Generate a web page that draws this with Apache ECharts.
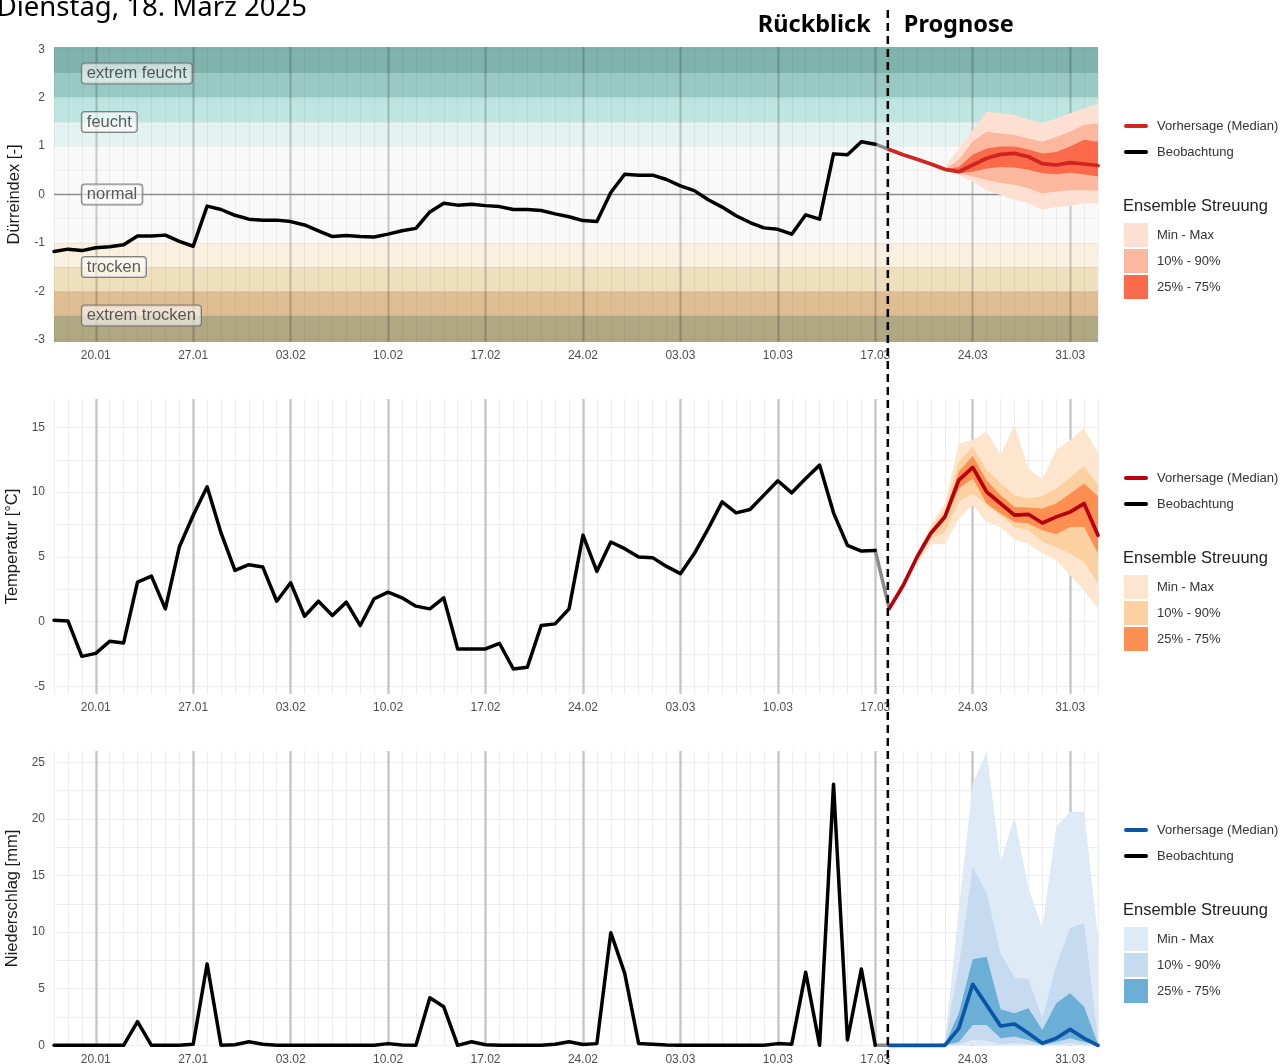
<!DOCTYPE html>
<html>
<head>
<meta charset="utf-8">
<script src="https://cdn.jsdelivr.net/npm/echarts@6/dist/echarts.min.js"></script>
<style>html,body{margin:0;padding:0;background:#fff;}#c{width:1286px;height:1064px;}</style>
</head>
<body>
<div id="c"></div>
<script>
// ---- x axis: daily categories 17.01.2025 ... 02.04.2025
const firstDay = Date.UTC(2025, 0, 17);
const dayCount = 76;
const dates = [];
for (let i = 0; i < dayCount; i++) {
  const d = new Date(firstDay + i * 86400000);
  dates.push(String(d.getUTCDate()).padStart(2, '0') + '.' + String(d.getUTCMonth() + 1).padStart(2, '0'));
}
const forecastStartDay = 60;      // index of 18.03.2025
const tickLabels = ['20.01', '27.01', '03.02', '10.02', '17.02', '24.02', '03.03', '10.03', '17.03', '24.03', '31.03'];

// ---- Dürreindex
const droughtClassFrom = [2.5, 2, 1.5, 1, -1, -1.5, -2, -2.5];
const droughtClassTo = [3.05, 2.5, 2, 1.5, 1, -1, -1.5, -2];
const droughtClassColors = ['#7fb3ab', '#98cac3', '#bfe5e0', '#e3f3f1', '#f9f9f9', '#f9f0e0', '#efe0bd', '#dfbd93'];
const droughtLowest = [-3.05, -2.5];
const droughtLowestColor = '#b0a783';
const droughtLabels = ['extrem feucht', 'feucht', 'normal', 'trocken', 'extrem trocken'];
const droughtLabelValues = [2.5, 1.5, 0, -1.5, -2.5];
const droughtLabelDay = 2;

const obsDrought = [-1.18,-1.13,-1.16,-1.10,-1.08,-1.04,-0.86,-0.86,-0.84,-0.97,
  -1.07,-0.24,-0.31,-0.43,-0.51,-0.53,-0.53,-0.56,-0.63,-0.75,
  -0.87,-0.85,-0.87,-0.88,-0.82,-0.75,-0.70,-0.36,-0.18,-0.22,
  -0.20,-0.23,-0.25,-0.31,-0.31,-0.33,-0.40,-0.46,-0.54,-0.56,
  0.04,0.42,0.40,0.40,0.31,0.18,0.08,-0.11,-0.26,-0.44,
  -0.58,-0.69,-0.72,-0.82,-0.42,-0.51,0.84,0.82,1.09,1.04];
const fcDroughtMed = [0.93,0.82,0.73,0.63,0.52,0.47,0.61,0.75,0.83,0.85,0.78,0.64,0.61,0.66,0.63,0.60];
const fcDroughtMin = [0.93,0.82,0.73,0.63,0.51,0.40,0.26,0.09,-0.01,-0.11,-0.18,-0.31,-0.26,-0.24,-0.18,-0.18];
const fcDroughtMax = [0.93,0.82,0.73,0.63,0.57,0.95,1.33,1.71,1.68,1.64,1.55,1.48,1.57,1.68,1.78,1.88];
const fcDroughtP10 = [0.93,0.82,0.73,0.63,0.51,0.44,0.37,0.30,0.24,0.20,0.13,0.02,0.06,0.09,0.09,0.08];
const fcDroughtP90 = [0.93,0.82,0.73,0.63,0.52,0.72,1.10,1.30,1.26,1.23,1.16,1.09,1.19,1.30,1.44,1.47];
const fcDroughtP25 = [0.93,0.82,0.73,0.63,0.51,0.44,0.47,0.54,0.57,0.56,0.51,0.44,0.42,0.45,0.42,0.37];
const fcDroughtP75 = [0.93,0.82,0.73,0.63,0.52,0.57,0.82,0.95,0.99,0.99,0.93,0.85,0.88,0.99,1.13,1.09];

// ---- Temperatur
const obsTemp = [0.10,0.05,-2.69,-2.46,-1.52,-1.65,3.05,3.51,0.98,5.76,
  8.22,10.41,6.85,3.95,4.39,4.21,1.57,3.00,0.41,1.57,
  0.47,1.50,-0.31,1.76,2.27,1.83,1.19,0.98,1.83,-2.12,
  -2.12,-2.12,-1.68,-3.67,-3.54,-0.31,-0.18,0.98,6.67,3.88,
  6.15,5.63,4.99,4.94,4.26,3.70,5.25,7.18,9.25,8.40,
  8.66,9.77,10.88,9.95,11.06,12.09,8.40,5.89,5.45,5.50];
const fcTempMed = [1.00,2.79,4.99,6.85,8.09,10.93,11.91,10.02,9.12,8.22,8.29,7.62,8.09,8.47,9.12,6.67];
const fcTempMin = [0.90,2.53,4.47,5.97,5.97,7.96,8.99,7.70,7.31,6.33,6.02,5.25,4.73,3.57,2.40,0.98];
const fcTempMax = [1.10,2.90,5.25,7.50,9.12,13.77,14.03,14.68,12.87,15.19,11.83,10.98,13.26,14.03,14.93,13.00];
const fcTempP10 = [0.95,2.60,4.73,6.40,6.93,9.25,9.90,8.99,8.22,7.31,7.05,6.15,5.76,5.25,4.60,2.92];
const fcTempP90 = [1.05,2.85,5.10,7.20,8.73,12.35,13.51,11.71,10.67,9.77,9.51,9.69,10.29,11.14,12.02,10.54];
const fcTempP25 = [0.98,2.70,4.90,6.65,7.83,10.29,11.06,9.12,8.35,7.70,7.57,7.05,6.74,7.31,7.31,5.25];
const fcTempP75 = [1.02,2.85,5.05,7.00,8.35,11.57,12.79,10.93,9.77,8.86,8.81,8.73,9.12,9.90,10.67,9.69];

// ---- Niederschlag
const obsPrecip = [0,0,0,0,0,0,2.09,0,0,0,
  0.10,7.18,0,0.05,0.32,0.10,0,0,0,0,
  0,0,0,0,0.15,0.02,0,4.20,3.40,0,
  0.32,0.05,0,0,0,0,0.10,0.32,0.07,0.15,
  9.95,6.36,0.15,0.10,0.03,0,0,0,0,0,
  0,0,0.15,0.10,6.45,0,23.06,0.47,6.74,0];
const fcPrecMed = [0,0,0,0,0,1.50,5.39,3.56,1.71,1.88,1.06,0.18,0.62,1.41,0.62,0];
const fcPrecMin = [0,0,0,0,0,0,0,0,0,0,0,0,0,0,0,0];
const fcPrecMax = [0,0,0,0,0.30,12.0,23.14,25.94,16.22,20.19,13.87,10.34,19.31,20.64,20.64,9.60];
const fcPrecP10 = [0,0,0,0,0,0.05,0.50,0.40,0.10,0.20,0.10,0,0.05,0.20,0.05,0];
const fcPrecP90 = [0,0,0,0,0.20,7.0,15.78,13.43,8.13,6.00,5.83,2.39,7.09,10.34,10.83,0.47];
const fcPrecP25 = [0,0,0,0,0,0.30,1.79,1.79,0.62,0.77,0.47,0.03,0.30,0.62,0.30,0];
const fcPrecP75 = [0,0,0,0,0.10,2.83,7.60,7.83,3.18,2.83,3.27,1.35,3.71,4.59,3.41,0.10];

// ---- y axes
const yMin = [-3.05, -5.6, -0.06];
const yMax = [3.05, 17.2, 26];
const yTicks = [[-3,-2.5,-2,-1.5,-1,-0.5,0,0.5,1,1.5,2,2.5,3],
  [-5,-2.5,0,2.5,5,7.5,10,12.5,15],
  [0,2.5,5,7.5,10,12.5,15,17.5,20,22.5,25]];
const yLabels = [[-3,-2,-1,0,1,2,3],[-5,0,5,10,15],[0,5,10,15,20,25]];
const yNames = ['Dürreindex [-]', 'Temperatur [°C]', 'Niederschlag [mm]'];

const legendNames = ['Vorhersage (Median)', 'Beobachtung'];
const legendTitle = 'Ensemble Streuung';
const bandNames = ['Min - Max', '10% - 90%', '25% - 75%'];
const medColors = ['#d0241e', '#b8000c', '#0a56a4'];
const bandColors = [['#fee0d2', '#fcb89e', '#fb6a4a'], ['#fee6ce', '#fdd0a2', '#fd8f52'], ['#deebf7', '#c6dbef', '#6baed6']];

const titleText = 'Dienstag, 18. März 2025';
const backText = 'Rückblick';
const foreText = 'Prognose';

// ---- layout
const gridTop = [47, 399, 751];
const gridH = 295;
const gridLeft = 54;
const gridW = 1044;
const FONT = '"Liberation Sans", Arial, sans-serif';

const isMajor = i => tickLabels.indexOf(dates[i]) >= 0;
function pairs(arr, start) { return arr.map((v, i) => [start + i, v]); }

const grids = gridTop.map(t => ({ left: gridLeft, top: t, width: gridW, height: gridH, containLabel: false, outerBoundsMode: 'none' }));
const xAxes = [];
const yAxes = [];
for (let g = 0; g < 3; g++) {
  xAxes.push({
    type: 'category', gridIndex: g, data: dates, boundaryGap: false, position: 'bottom',
    axisLine: { show: false }, axisTick: { show: false }, axisLabel: { show: false },
    splitLine: { show: true, interval: 0, lineStyle: { color: g === 0 ? 'rgba(0,0,0,0.05)' : '#ececec', width: 1 } },
    z: g === 0 ? 1.5 : 0
  });
  xAxes.push({
    type: 'category', gridIndex: g, data: dates, boundaryGap: false, position: 'bottom',
    axisLine: { show: false },
    axisTick: { show: false },
    axisLabel: { interval: i => isMajor(i), color: '#4d4d4d', fontSize: 12, fontFamily: FONT, margin: 8 },
    splitLine: { show: true, interval: i => isMajor(i), lineStyle: { color: g === 0 ? 'rgba(0,0,0,0.14)' : '#c8c8c8', width: 2.5 } },
    z: g === 0 ? 1.5 : 0
  });
  yAxes.push({
    type: 'value', gridIndex: g, min: yMin[g], max: yMax[g],
    axisLine: { show: false },
    axisTick: { show: false, customValues: yTicks[g] },
    axisLabel: { customValues: yLabels[g], color: '#4d4d4d', fontSize: 12, fontFamily: FONT, margin: 9 },
    splitLine: { show: true, lineStyle: { color: g === 0 ? 'rgba(0,0,0,0.04)' : '#ececec', width: 1 } },
    name: yNames[g], nameLocation: 'middle', nameGap: 25,
    nameTextStyle: { fontSize: 16.5, color: '#1a1a1a', fontFamily: FONT },
    z: g === 0 ? 1.5 : 0
  });
}

const series = [];
// background drought classes
const bgData = droughtClassFrom.map((f, i) => [
  { yAxis: f, itemStyle: { color: droughtClassColors[i], opacity: 1 } },
  { yAxis: droughtClassTo[i] }
]);
bgData.push([{ yAxis: droughtLowest[0], itemStyle: { color: droughtLowestColor, opacity: 1 } }, { yAxis: droughtLowest[1] }]);
series.push({
  type: 'line', name: 'bg', xAxisIndex: 1, yAxisIndex: 0, data: [], z: 1, silent: true,
  markArea: { z: 1, silent: true, label: { show: false }, emphasis: { disabled: true }, data: bgData }
});
series.push({
  type: 'line', name: 'zero', xAxisIndex: 1, yAxisIndex: 0, data: [], z: 1.7, silent: true,
  markLine: { z: 1.7, silent: true, symbol: 'none', label: { show: false }, lineStyle: { color: '#8c8c8c', width: 1.3, type: 'solid' }, data: [{ yAxis: 0 }] }
});

const panels = [
  { obs: obsDrought, med: fcDroughtMed, lo: [fcDroughtMin, fcDroughtP10, fcDroughtP25], hi: [fcDroughtMax, fcDroughtP90, fcDroughtP75] },
  { obs: obsTemp, med: fcTempMed, lo: [fcTempMin, fcTempP10, fcTempP25], hi: [fcTempMax, fcTempP90, fcTempP75] },
  { obs: obsPrecip, med: fcPrecMed, lo: [fcPrecMin, fcPrecP10, fcPrecP25], hi: [fcPrecMax, fcPrecP90, fcPrecP75] }
];

panels.forEach((p, g) => {
  const xi = 2 * g + 1;
  for (let b = 0; b < 3; b++) {
    const st = 'band' + g + '_' + b;
    series.push({
      type: 'line', name: 'lo' + g + b, xAxisIndex: xi, yAxisIndex: g, stack: st, stackStrategy: 'all', z: 2,
      symbol: 'none', silent: true, lineStyle: { width: 0, opacity: 0 },
      data: pairs(p.lo[b], forecastStartDay)
    });
    series.push({
      type: 'line', name: bandNames[b] + ' ' + g, xAxisIndex: xi, yAxisIndex: g, stack: st, stackStrategy: 'all', z: 2,
      symbol: 'none', silent: true, lineStyle: { width: 0, opacity: 0 },
      areaStyle: { color: bandColors[g][b], opacity: 1 },
      data: p.hi[b].map((v, i) => [forecastStartDay + i, +(v - p.lo[b][i]).toFixed(4)])
    });
  }
  series.push({
    type: 'line', name: 'bridge' + g, xAxisIndex: xi, yAxisIndex: g, z: 3, symbol: 'none', clip: false,
    lineStyle: { color: '#8a8a8a', width: 3.5, join: 'round', cap: 'round' },
    data: [[forecastStartDay - 1, p.obs[p.obs.length - 1]], [forecastStartDay, p.med[0]]]
  });
  series.push({
    type: 'line', name: 'Beobachtung ' + g, xAxisIndex: xi, yAxisIndex: g, z: 3, symbol: 'none', clip: false,
    lineStyle: { color: '#000', width: 3.5, join: 'round', cap: 'round' },
    data: pairs(p.obs, 0)
  });
  series.push({
    type: 'line', name: 'Median ' + g, xAxisIndex: xi, yAxisIndex: g, z: 3, symbol: 'none', clip: false,
    lineStyle: { color: medColors[g], width: 3.7, join: 'round', cap: 'round' },
    data: pairs(p.med, forecastStartDay)
  });
});

series.push({
  type: 'scatter', name: 'classLabels', xAxisIndex: 1, yAxisIndex: 0, z: 4, symbolSize: 0, silent: true,
  data: droughtLabels.map((t, i) => ({ value: [droughtLabelDay, droughtLabelValues[i]], name: t })),
  label: {
    show: true, position: 'right', distance: 0, formatter: d => d.name,
    fontSize: 16.5, fontFamily: FONT, color: '#333',
    backgroundColor: 'rgba(255,255,255,0.72)', borderColor: '#666', borderWidth: 1, borderRadius: 3,
    padding: [2, 5, 1, 5]
  }
});

const chart = echarts.init(document.getElementById('c'), null, { renderer: 'canvas' });
chart.setOption({
  animation: false,
  backgroundColor: '#fff',
  textStyle: { fontFamily: FONT },
  grid: grids, xAxis: xAxes, yAxis: yAxes, series: series
});

// annotations and legends
const px59 = chart.convertToPixel({ xAxisIndex: 1 }, forecastStartDay - 1);
const px60 = chart.convertToPixel({ xAxisIndex: 1 }, forecastStartDay);
const dashX = px59 + 0.9 * (px60 - px59);
const graphics = [];
graphics.push({
  type: 'text', x: 307, y: 8.5, z: 50,
  style: { text: titleText, font: '400 27.5px "Noto Sans"', fill: '#000', align: 'right', textAlign: 'right', verticalAlign: 'middle', textVerticalAlign: 'middle' }
});
graphics.push({
  type: 'text', x: dashX - 17, y: 25, z: 50,
  style: { text: backText, font: '700 23.5px "Noto Sans"', fill: '#000', align: 'right', textAlign: 'right', verticalAlign: 'middle', textVerticalAlign: 'middle' }
});
graphics.push({
  type: 'text', x: dashX + 16, y: 25, z: 50,
  style: { text: foreText, font: '700 23.5px "Noto Sans"', fill: '#000', align: 'left', textAlign: 'left', verticalAlign: 'middle', textVerticalAlign: 'middle' }
});
graphics.push({
  type: 'line', z: 60, silent: true,
  shape: { x1: dashX, y1: 10, x2: dashX, y2: 1064 },
  style: { stroke: '#000', lineWidth: 2.5, lineDash: [8, 5] }
});
for (let g = 0; g < 3; g++) {
  const t = gridTop[g];
  const lineKeys = [medColors[g], '#000'];
  lineKeys.forEach((c, k) => {
    const ly = t + 79 + 26 * k;
    graphics.push({ type: 'rect', z: 50, shape: { x: 1124, y: ly - 2, width: 24, height: 4, r: 2 }, style: { fill: c } });
    graphics.push({ type: 'text', z: 50, x: 1157, y: ly, style: { text: legendNames[k], font: '13px ' + FONT, fill: '#333', verticalAlign: 'middle', textVerticalAlign: 'middle' } });
  });
  graphics.push({ type: 'text', z: 50, x: 1123, y: t + 159, style: { text: legendTitle, font: '16.5px ' + FONT, fill: '#222', verticalAlign: 'middle', textVerticalAlign: 'middle' } });
  bandNames.forEach((n, b) => {
    const sy = t + 176 + 26 * b;
    graphics.push({ type: 'rect', z: 50, shape: { x: 1124, y: sy, width: 24, height: 24 }, style: { fill: bandColors[g][b] } });
    graphics.push({ type: 'text', z: 50, x: 1157, y: sy + 12, style: { text: n, font: '13px ' + FONT, fill: '#333', verticalAlign: 'middle', textVerticalAlign: 'middle' } });
  });
}
chart.setOption({ graphic: graphics });
</script>
</body>
</html>
